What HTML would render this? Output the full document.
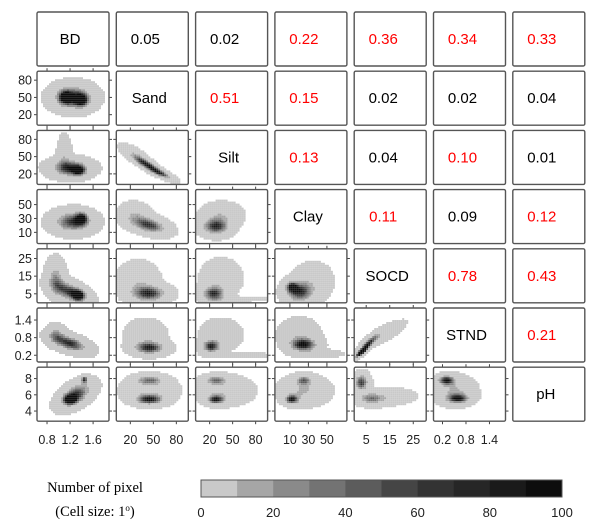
<!DOCTYPE html>
<html><head><meta charset="utf-8"><style>
html,body{margin:0;padding:0;background:#fff;}
svg{display:block;font-family:"Liberation Sans",Arial,sans-serif;}
</style></head><body>
<svg id="chart" width="600" height="528" viewBox="0 0 600 528" xmlns="http://www.w3.org/2000/svg"></svg>
<script>
const varNames = ["BD","Sand","Silt","Clay","SOCD","STND","pH"];
const xTickLabels = [[0.8,1.2,1.6],[20,50,80],[20,50,80],[10,30,50],[5,15,25],[0.2,0.8,1.4],[]];
const yTickLabels = [[],[20,50,80],[20,50,80],[10,30,50],[5,15,25],[0.2,0.8,1.4],[4,6,8]];
const axisMin = [0.626,1.7,1.7,-6.2,-0.1,-0.03,2.75];
const axisMax = [1.876,95.6,95.6,71.6,30.5,1.81,9.4];
const corrValues = [
 [null,0.05,0.02,0.22,0.36,0.34,0.33],
 [null,null,0.51,0.15,0.02,0.02,0.04],
 [null,null,null,0.13,0.04,0.10,0.01],
 [null,null,null,null,0.11,0.09,0.12],
 [null,null,null,null,null,0.78,0.43],
 [null,null,null,null,null,null,0.21]];
const corrSignificant = [
 [0,0,0,1,1,1,1],[0,0,1,1,0,0,0],[0,0,0,1,0,1,0],[0,0,0,0,1,0,1],[0,0,0,0,0,1,1],[0,0,0,0,0,0,1]];
// density clusters per lower panel "row-col": [cx, cy, sx, sy, rho, weight]
const densityBlobs = {
 "1-0":[[1.25,50,0.22,14,0,1],[1.12,50,0.08,8,0,0.8],[1.4,45,0.08,8,0,0.8]],
 "2-0":[[1.2,30,0.22,10,0,1],[1.1,55,0.07,18,0,0.35],[1.35,25,0.08,6,0,0.8]],
 "3-0":[[1.25,25,0.22,10,0,1],[1.4,30,0.07,6,0,0.8]],
 "4-0":[[1.2,6,0.2,4,-0.5,1],[0.95,14,0.1,6,0,0.6],[1.35,4,0.07,2,0,0.9]],
 "5-0":[[1.2,0.6,0.2,0.2,-0.5,1],[0.95,0.9,0.1,0.2,0,0.5]],
 "6-0":[[1.3,6,0.18,1,0.5,1],[1.2,5.4,0.08,0.4,0,0.9],[1.45,7.9,0.04,0.3,0,0.9]],
 "2-1":[[45,33,15,12,-0.9,1],[30,50,12,12,-0.8,0.4],[60,20,10,6,-0.8,0.5]],
 "3-1":[[45,20,15,8,-0.4,1],[25,35,12,10,0,0.4]],
 "4-1":[[45,5,15,3,0,1],[30,12,15,6,0,0.4]],
 "5-1":[[45,0.45,14,0.15,0,1],[40,0.9,15,0.3,0,0.3]],
 "6-1":[[45,5.4,12,0.4,0,1],[45,7.8,12,0.4,0,0.7],[45,6.5,20,1,0,0.4]],
 "3-2":[[28,18,12,8,0,1],[35,35,15,10,0,0.4]],
 "4-2":[[25,5,10,3,0,1],[35,14,15,6,0,0.3],[60,2,25,0.8,0,0.3]],
 "5-2":[[22,0.5,8,0.15,0,1],[35,0.9,15,0.3,0,0.3],[60,0.2,25,0.05,0,0.3]],
 "6-2":[[28,5.4,8,0.4,0,1],[28,7.8,10,0.4,0,0.7],[40,6.5,20,1,0,0.4]],
 "4-3":[[20,6,10,4,0,1],[12,9,4,2,0,0.8],[35,12,12,6,0,0.3]],
 "5-3":[[25,0.55,10,0.15,0,1],[20,0.9,12,0.3,0,0.4],[40,0.25,15,0.08,0,0.3]],
 "6-3":[[12,5.4,5,0.4,0,1],[25,7.8,6,0.4,0,0.7],[25,6.5,15,1,0,0.5]],
 "5-4":[[5,0.5,3,0.25,0.9,1],[3,0.3,1.5,0.1,0.8,1],[12,0.9,5,0.25,0.8,0.4]],
 "6-4":[[3,7.5,2,0.7,0,1],[7,5.5,4,0.5,0,0.7],[15,5.8,6,0.6,0,0.3]],
 "6-5":[[0.3,7.8,0.15,0.4,0,1],[0.6,5.5,0.2,0.4,0,0.9],[0.5,6.5,0.3,1,0,0.5]]
};
const legendTicks = [0,20,40,60,80,100];
const legendGrays = ["#c9c9c9","#a6a6a6","#8a8a8a","#737373","#5c5c5c","#454545","#333333","#262626","#1a1a1a","#0d0d0d"];

const NS="http://www.w3.org/2000/svg";
const svg=document.getElementById('chart');
function mk(t,a,p){const e=document.createElementNS(NS,t);for(const k in a)e.setAttribute(k,a[k]);(p||svg).appendChild(e);return e;}
const colX=c=>37+c*79.3, rowY=r=>12+r*59.2, PW=72, PH=54;
const sx=(v,c)=>colX(c)+(v-axisMin[c])/(axisMax[c]-axisMin[c])*PW;
const sy=(v,r)=>rowY(r)+PH-(v-axisMin[r])/(axisMax[r]-axisMin[r])*PH;

for(let r=0;r<7;r++)for(let c=0;c<7;c++){
  const x0=colX(c),y0=rowY(r);
  const g=mk('g',{});
  
  
  if(r>c){
    const blobs=densityBlobs[r+'-'+c];
    const cell=2;
    for(let px=0;px<PW;px+=cell)for(let py=0;py<PH;py+=cell){
      const vx=axisMin[c]+(px+1)/PW*(axisMax[c]-axisMin[c]);
      const vy=axisMin[r]+(PH-py-1)/PH*(axisMax[r]-axisMin[r]);
      let d=0;
      for(const b of blobs){const u=(vx-b[0])/b[2],v=(vy-b[1])/b[3],p=b[4];
        d+=b[5]*Math.exp(-(u*u-2*p*u*v+v*v)/(2*(1-p*p)));}
      if(d<0.04)continue;
      const lvl=Math.min(9,Math.floor(Math.pow(d/1.15,2.6)*10));
      const rc=mk('rect',{x:x0+px,y:y0+py,width:cell,height:cell,fill:legendGrays[lvl]},g);
      
      
    }
    xTickLabels[c].forEach(t=>{const X=sx(t,c);mk('line',{x1:X,x2:X,y1:y0,y2:y0-3,stroke:'#444'},g);mk('line',{x1:X,x2:X,y1:y0+PH,y2:y0+PH+3,stroke:'#444'},g);});
    yTickLabels[r].forEach(t=>{const Y=sy(t,r);mk('line',{x1:x0,x2:x0-3,y1:Y,y2:Y,stroke:'#444'},g);mk('line',{x1:x0+PW,x2:x0+PW+3,y1:Y,y2:Y,stroke:'#444'},g);});
  }
  mk('rect',{x:x0,y:y0,width:PW,height:PH,rx:1.5,fill:'none',stroke:'#555','stroke-width':1.4},g);
  if(r===c){
    const t=mk('text',{x:x0+PW/2-3,y:y0+PH/2+5,'font-size':15,'text-anchor':'middle',fill:'#000'},g);
    t.textContent=varNames[r];
    
    
  } else if(c>r){
    const v=corrValues[r][c];
    const t=mk('text',{x:x0+PW/2-7,y:y0+PH/2+5,'font-size':15,'text-anchor':'middle',fill:corrSignificant[r][c]?'#ff0000':'#000'},g);
    t.textContent=v.toFixed(2);
    
    
  }
}
for(let c=0;c<6;c++)xTickLabels[c].forEach(t=>{const e=mk('text',{x:sx(t,c),y:444,'font-size':12.5,'text-anchor':'middle',fill:'#222'});e.textContent=t;
  });
for(let r=1;r<7;r++)yTickLabels[r].forEach(t=>{const e=mk('text',{x:32,y:sy(t,r)+4.5,'font-size':12.5,'text-anchor':'end',fill:'#222'});e.textContent=t;
  });
const lg=mk('g',{});


const lx0=201,lx1=562,ly=480,lh=17;
legendGrays.forEach((col,i)=>{const w=(lx1-lx0)/10;mk('rect',{x:lx0+i*w,y:ly,width:w+0.5,height:lh,fill:col},lg);});
mk('rect',{x:lx0,y:ly,width:lx1-lx0,height:lh,fill:'none',stroke:'#555'},lg);
legendTicks.forEach(t=>{const e=mk('text',{x:lx0+t/100*(lx1-lx0),y:517,'font-size':13,'text-anchor':'middle',fill:'#222'},lg);e.textContent=t;});
const l1=mk('text',{x:95,y:492,'font-size':14.5,'text-anchor':'middle','font-family':'Liberation Serif,serif'},lg);l1.textContent='Number of pixel';
const l2=mk('text',{x:95,y:516,'font-size':14.5,'text-anchor':'middle','font-family':'Liberation Serif,serif'},lg);
l2.innerHTML='(Cell size: 1<tspan dy="-5" font-size="9">o</tspan><tspan dy="5">)</tspan>';
</script>
</body></html>
